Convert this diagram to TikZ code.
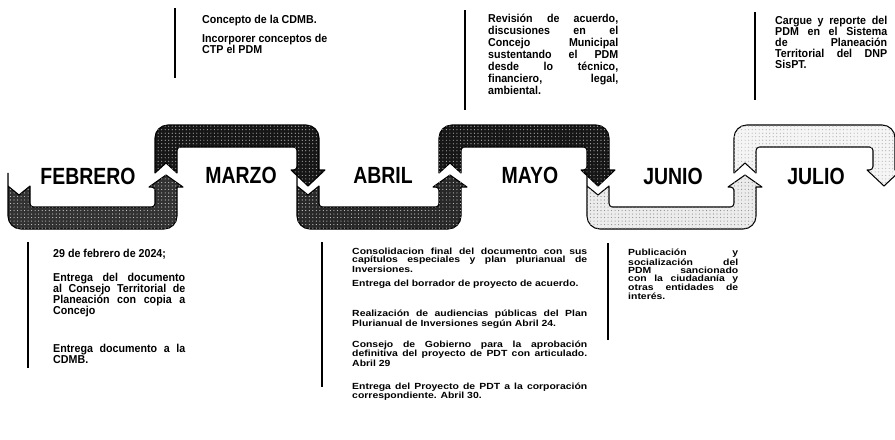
\documentclass[tikz,border=0pt]{standalone}
\usepackage{fontspec}
\setmainfont{Liberation Sans}
\newfontfamily\monthfont[FakeStretch=0.83]{Liberation Sans}
\newfontfamily\notefont[FakeStretch=0.93]{Liberation Sans}
\newfontfamily\widenotefont[FakeStretch=1.17]{Liberation Sans}
\usepackage{tikz}
\usetikzlibrary{positioning, patterns}
\definecolor{bandfeb}{RGB}{50,50,50}
\definecolor{bandmar}{RGB}{22,22,22}
\definecolor{bandabr}{RGB}{40,40,40}
\definecolor{bandmay}{RGB}{22,22,22}
\definecolor{bandjun}{RGB}{236,236,236}
\definecolor{bandjul}{RGB}{245,245,245}
% band that goes up at #1, across the top, down at #2
\newcommand{\bandtop}[3]{%
  \filldraw[band, fill=#3, #3 spots] (#1-11,173) -- (#1,163) -- (#1+11,173)
    [rounded corners=3pt] -- (#1+11,147) -- (#2-11,147) -- (#2-11,170)
    [sharp corners] -- (#2-17,170) -- (#2,186) -- (#2+17,170) -- (#2+11,170)
    [rounded corners=11pt] -- (#2+11,125) -- (#1-11,125) -- (#1-11,173)
    [sharp corners] -- cycle;}
% band that goes down at #1, across the bottom, up at #2
\newcommand{\bandbot}[3]{%
  \filldraw[band, fill=#3, #3 spots] (#1-11,186) -- (#1,195) -- (#1+11,186)
    [rounded corners=3pt] -- (#1+11,207) -- (#2-11,207) -- (#2-11,187)
    [sharp corners] -- (#2-17,187) -- (#2,175) -- (#2+17,187) -- (#2+11,187)
    [rounded corners=11pt] -- (#2+11,229) -- (#1-11,229) -- (#1-11,186)
    [sharp corners] -- cycle;}
\begin{document}
\begin{tikzpicture}[x=0.03cm, y=-0.03cm,
  band/.style={draw=black, line width=0.9pt, line join=round},
  bandfeb spots/.style={postaction={pattern=dots, pattern color=white!80!black}},
  bandmar spots/.style={postaction={pattern=dots, pattern color=white!70!black}},
  bandabr spots/.style={postaction={pattern=dots, pattern color=white!80!black}},
  bandmay spots/.style={postaction={pattern=dots, pattern color=white!70!black}},
  bandjun spots/.style={postaction={pattern=dots, pattern color=black!45}},
  bandjul spots/.style={postaction={pattern=dots, pattern color=black!30}},
  month/.style={font=\monthfont\bfseries\fontsize{20}{20}\selectfont, inner sep=0pt},
  note/.style={font=\notefont\bfseries\fontsize{9.8}{9.4}\selectfont, align=justify,
    anchor=north west, inner sep=0pt},
  small note/.style={note, font=\widenotefont\bfseries\fontsize{7.6}{6.9}\selectfont},
  rule/.style={line width=2.4pt}]
  \useasboundingbox (0,0) rectangle (895,439);
  \tolerance=10000 \hyphenpenalty=10000

  % Timeline band, one piece per month
  \bandbot{19}{166}{bandfeb}
  \bandtop{166}{308}{bandmar}
  \bandbot{308}{450}{bandabr}
  \bandtop{450}{598}{bandmay}
  \bandbot{598}{745}{bandjun}
  \bandtop{745}{884}{bandjul}

  % Months
  \node[month] (feb) at (88,176) {FEBRERO};
  \node[month] (mar) at (241,175) {MARZO};
  \node[month] (abr) at (383,175) {ABRIL};
  \node[month] (may) at (530,175) {MAYO};
  \node[month] (jun) at (673,176) {JUNIO};
  \node[month] (jul) at (816,176) {JULIO};

  % Notes above the band
  \draw[rule] (175,8) -- (175,78);
  \node[note, text width=3.75cm] (marnote) at (202,15) {Concepto de la CDMB.\par\vspace{7pt}
    Incorporer conceptos de\linebreak CTP el PDM};
  \draw[rule] (465,10) -- (465,110);
  \node[note, font=\notefont\bfseries\fontsize{9.8}{10.2}\selectfont, text width=3.9cm]
    (maynote) at (488,14) {Revisión de acuerdo,\linebreak
    discusiones en el\linebreak Concejo Municipal\linebreak sustentando el PDM\linebreak
    desde lo técnico,\linebreak financiero, legal,\linebreak ambiental.};
  \draw[rule] (755,12) -- (755,100);
  \node[note, text width=3.36cm] (julnote) at (775,16) {Cargue y reporte del\linebreak
    PDM en el Sistema\linebreak de Planeación\linebreak Territorial del DNP\linebreak SisPT.};

  % Notes below the band
  \draw[rule] (28,242) -- (28,368);
  \node[note, text width=3.96cm] (febnote) at (53,249) {29 de febrero de 2024;\par\vspace{11pt}
    Entrega del documento\linebreak al Consejo Territorial de\linebreak
    Planeación con copia a\linebreak Concejo\par\vspace{23pt}
    Entrega documento a la\linebreak CDMB.};
  \draw[rule] (322,242) -- (322,387);
  \node[small note, text width=7.05cm] (abrnote) at (352,248) {Consolidacion final del documento con sus\linebreak
    capítulos especiales y plan plurianual de\linebreak Inversiones.\par\vspace{5pt}
    Entrega del borrador de proyecto de acuerdo.\par\vspace{18pt}
    Realización de audiencias públicas del Plan\linebreak
    Plurianual de Inversiones según Abril 24.\par\vspace{9.5pt}
    Consejo de Gobierno para la aprobación\linebreak
    definitiva del proyecto de PDT con articulado.\linebreak Abril 29\par\vspace{12.8pt}
    Entrega del Proyecto de PDT a la corporación\linebreak correspondiente. Abril 30.};
  \draw[rule] (608,243) -- (608,340);
  \node[small note, text width=3.3cm] (junnote) at (628,249) {Publicación y\linebreak
    socialización del\linebreak PDM sancionado\linebreak con la ciudadanía y\linebreak
    otras entidades de\linebreak interés.};
\end{tikzpicture}
\end{document}
